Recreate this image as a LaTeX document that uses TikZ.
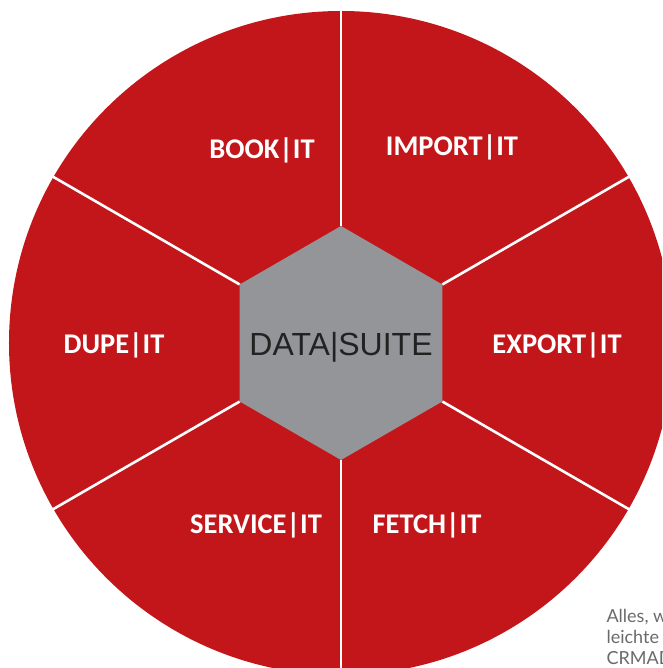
\documentclass[tikz,border=0pt]{standalone}
\usepackage{fontspec}
\usepackage{tikz}

\newfontfamily\labelfont{Carlito}
\newfontfamily\hubfont{Liberation Sans}
\newfontfamily\notefont{Lato}

\definecolor{wheelred}{HTML}{C3161A}
\definecolor{hubgray}{HTML}{939598}
\definecolor{hubtextcol}{HTML}{222222}
\definecolor{notegray}{HTML}{6A6A6A}

\tikzset{
  divider/.style={white,line width=2.6pt},
  segtext/.style={white,font=\labelfont\bfseries\fontsize{28.5}{32}\selectfont},
  notetext/.style={notegray,anchor=base west,font=\notefont\fontsize{18}{22}\selectfont}
}

\begin{document}
\begin{tikzpicture}[x=1pt,y=1pt]
    % Frame
    \useasboundingbox (-341,-325) rectangle (321,343);
    \clip (-341,-325) rectangle (321,343);

    % Wheel
    \fill[wheelred] (0,0) circle (332);

    % Dividers between the segments
    \foreach \a in {30,90,...,330}
      \draw[divider] (\a:117) -- (\a:340);

    % Hub (hexagon)
    \coordinate (H1) at (30:117);
    \coordinate (H2) at (90:117);
    \coordinate (H3) at (150:117);
    \coordinate (H4) at (210:117);
    \coordinate (H5) at (270:117);
    \coordinate (H6) at (330:117);
    \fill[hubgray] (H1) -- (H2) -- (H3) -- (H4) -- (H5) -- (H6) -- cycle;
    \node[hubtextcol,font=\hubfont\fontsize{32}{36}\selectfont] (suite) at (0,-4) {DATA|SUITE};

    % Segment labels
    \node[segtext] (book) at (-79,193) {BOOK|IT};
    \node[segtext] (import) at (111,196) {IMPORT|IT};
    \node[segtext] (dupe) at (-227,-2) {DUPE|IT};
    \node[segtext] (export) at (216,-2) {EXPORT|IT};
    \node[segtext] (service) at (-85,-182) {SERVICE|IT};
    \node[segtext] (fetch) at (86,-182) {FETCH|IT};

    % Cut-off note, lower right
    \node[notetext] (note1) at (262,-279) {Alles, w};
    \node[notetext] (note2) at (262,-300) {leichte};
    \node[notetext] (note3) at (262,-321) {CRMAD};

\end{tikzpicture}
\end{document}
